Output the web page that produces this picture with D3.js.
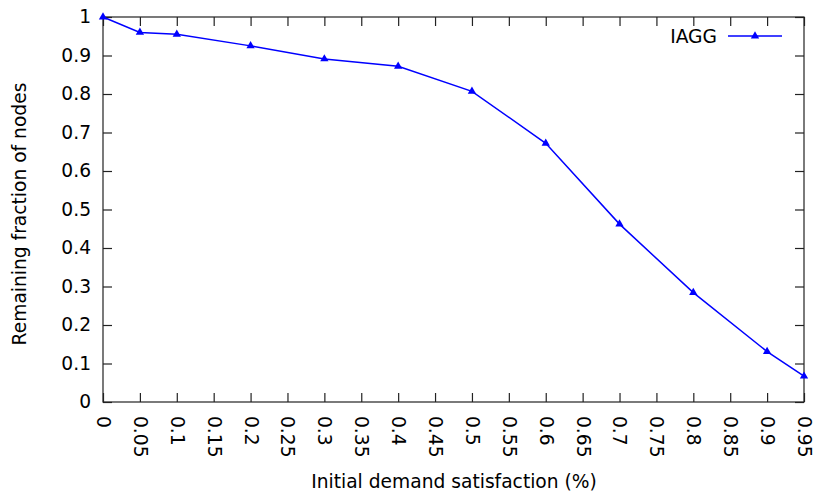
<!DOCTYPE html>
<html>
<head>
<meta charset="utf-8">
<script src="https://cdn.jsdelivr.net/npm/d3@7"></script>
<style>
  body { margin: 0; background: #fff; }
  text { font-family: "DejaVu Sans", sans-serif; font-size: 18.67px; fill: #000; }
</style>
</head>
<body>
<svg width="813" height="495"></svg>
<script>
var xValues = [0, 0.05, 0.1, 0.2, 0.3, 0.4, 0.5, 0.6, 0.7, 0.8, 0.9, 0.95];
var iaggValues = [1.0, 0.96, 0.955, 0.925, 0.891, 0.872, 0.807, 0.672, 0.462, 0.284, 0.131, 0.067];
var xTicks = d3.range(0, 20).map(function(i) { return i * 0.05; });
var xTickLabels = ["0", "0.05", "0.1", "0.15", "0.2", "0.25", "0.3", "0.35", "0.4", "0.45",
                   "0.5", "0.55", "0.6", "0.65", "0.7", "0.75", "0.8", "0.85", "0.9", "0.95"];
var yTicks = [0, 0.1, 0.2, 0.3, 0.4, 0.5, 0.6, 0.7, 0.8, 0.9, 1];
var yTickLabels = ["0", "0.1", "0.2", "0.3", "0.4", "0.5", "0.6", "0.7", "0.8", "0.9", "1"];

var svg = d3.select("svg"),
    margin = {top: 17, right: 9, bottom: 93, left: 103},
    width = +svg.attr("width") - margin.left - margin.right,
    height = +svg.attr("height") - margin.top - margin.bottom;

var x = d3.scaleLinear().domain([0, 0.95]).range([0, width]),
    y = d3.scaleLinear().domain([0, 1]).range([height, 0]);

var g = svg.append("g")
    .attr("transform", "translate(" + margin.left + "," + margin.top + ")");

var tick = 9;

// bottom axis with rotated labels
var xb = g.append("g")
    .attr("transform", "translate(0," + height + ")")
    .call(d3.axisBottom(x).tickValues(xTicks).tickSize(-tick).tickPadding(0)
      .tickFormat(function(d, i) { return xTickLabels[i]; }));
xb.selectAll("text")
    .attr("x", 0)
    .attr("y", 0)
    .attr("dy", "0.35em")
    .attr("transform", "translate(0,14) rotate(90)")
    .style("text-anchor", "start");

// top axis (ticks only)
g.append("g")
    .call(d3.axisTop(x).tickValues(xTicks).tickSize(-tick).tickFormat(""));

// left axis
g.append("g")
    .call(d3.axisLeft(y).tickValues(yTicks).tickSize(-tick).tickPadding(12)
      .tickFormat(function(d, i) { return yTickLabels[i]; }));

// right axis (ticks only)
g.append("g")
    .attr("transform", "translate(" + width + ",0)")
    .call(d3.axisRight(y).tickValues(yTicks).tickSize(-tick).tickFormat(""));

g.selectAll(".domain").remove();
g.selectAll(".tick line").attr("stroke", "#222").attr("stroke-width", 1.2);
g.selectAll(".tick text").style("font-family", "DejaVu Sans, sans-serif").style("font-size", "18.67px").attr("fill", "#000");

g.append("rect")
    .attr("width", width)
    .attr("height", height)
    .attr("fill", "none")
    .attr("stroke", "#222")
    .attr("stroke-width", 1.2);

var line = d3.line()
    .x(function(d, i) { return x(xValues[i]); })
    .y(function(d) { return y(d); });

g.append("path")
    .datum(iaggValues)
    .attr("fill", "none")
    .attr("stroke", "#0000ff")
    .attr("stroke-width", 1.5)
    .attr("d", line);

var tri = d3.symbol().type(d3.symbolTriangle).size(30);

g.selectAll(".pt")
    .data(iaggValues)
    .enter().append("path")
    .attr("class", "pt")
    .attr("transform", function(d, i) { return "translate(" + x(xValues[i]) + "," + y(d) + ")"; })
    .attr("d", tri)
    .attr("fill", "#0000ff");

// legend
var lg = svg.append("g").attr("transform", "translate(0,36)");
lg.append("text")
    .attr("x", 717)
    .attr("dy", "0.35em")
    .attr("text-anchor", "end")
    .text("IAGG");
lg.append("line")
    .attr("x1", 728).attr("x2", 782)
    .attr("stroke", "#0000ff").attr("stroke-width", 1.5);
lg.append("path")
    .attr("transform", "translate(755,0)")
    .attr("d", tri)
    .attr("fill", "#0000ff");

// axis titles
svg.append("text")
    .attr("x", 454)
    .attr("y", 488)
    .attr("text-anchor", "middle")
    .text("Initial demand satisfaction (%)");

svg.append("text")
    .attr("transform", "translate(26,214) rotate(-90)")
    .attr("text-anchor", "middle")
    .text("Remaining fraction of nodes");
</script>
</body>
</html>
